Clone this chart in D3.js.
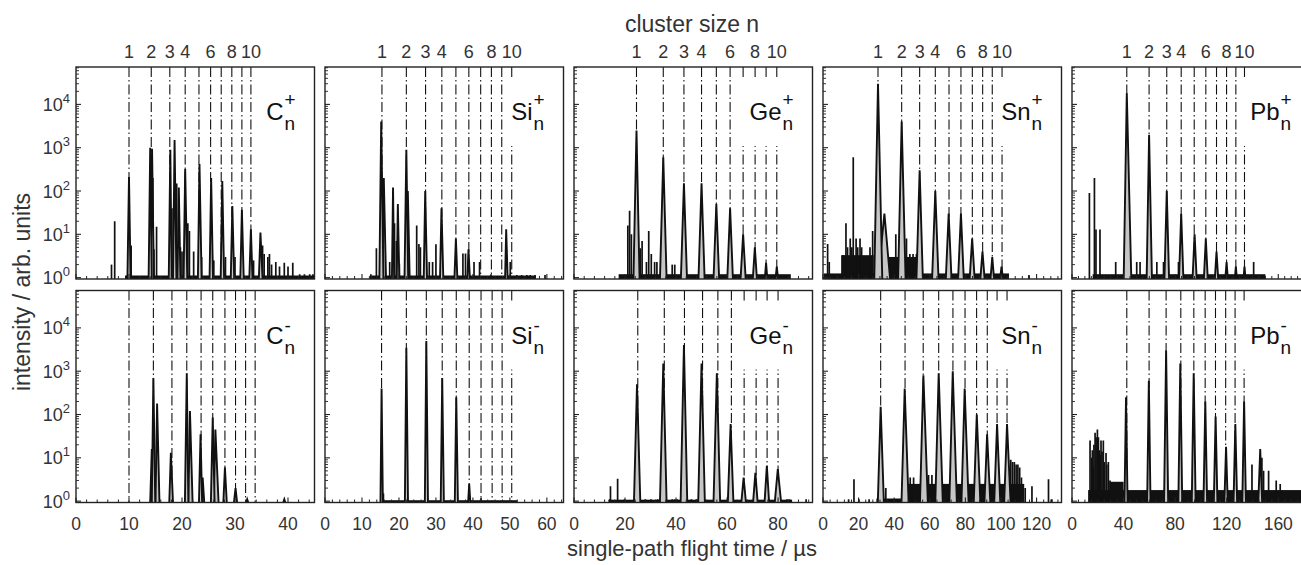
<!DOCTYPE html>
<html><head><meta charset="utf-8">
<script src="https://cdn.jsdelivr.net/npm/d3@7"></script>
<style>
body{margin:0;background:#fff;}
svg{display:block;font-family:"Liberation Sans",Arial,Helvetica,sans-serif;}
</style></head><body><svg id="chart" width="1301" height="565"></svg>
<script>
// ---------------- DATA ----------------
const species = ["C","Si","Ge","Sn","Pb"];
const xMaxes = [45, 64.5, 93.5, 134, 185];
const xTickSteps = [10, 10, 20, 20, 40];
const xMinorSteps = [2, 2, 4, 4, 5];
const clusterLabelNs = [1, 2, 3, 4, 6, 8, 10];
const yTickExps = [0, 1, 2, 3, 4];
const yDomain = [0.93, 73000];

// flight times of cluster sizes n = 1..10 (dash-dot marks)
const C_pos_lines  = [10.0, 14.2, 17.7, 20.6, 23.2, 25.4, 27.4, 29.4, 31.3, 33.0];
const C_neg_lines  = [10.0, 14.6, 18.1, 20.9, 23.6, 25.8, 28.1, 30.1, 32.0, 33.8];
const Si_pos_lines = [15.4, 22.0, 27.2, 31.6, 35.4, 38.9, 42.1, 45.0, 47.8, 50.5];
const Si_neg_lines = [15.3, 22.0, 27.4, 31.7, 35.5, 39.0, 42.2, 45.2, 47.9, 50.5];
const Ge_pos_lines = [24.5, 35.0, 43.1, 50.0, 55.8, 61.2, 66.3, 71.0, 75.3, 79.5];
const Ge_neg_lines = [25.0, 35.4, 43.3, 50.4, 56.4, 61.7, 66.7, 71.4, 75.7, 80.0];
const Sn_pos_lines = [30.9, 44.2, 54.3, 63.1, 70.8, 77.5, 83.9, 89.7, 95.1, 100.6];
const Sn_neg_lines = [32.4, 46.1, 56.3, 65.0, 73.0, 79.8, 86.3, 92.3, 97.8, 103.4];
const Pb_pos_lines = [42.5, 59.8, 73.5, 84.7, 94.8, 103.8, 112.1, 119.9, 127.1, 133.8];
const Pb_neg_lines = [42.5, 59.8, 73.0, 84.4, 94.5, 103.3, 111.3, 119.2, 126.5, 133.5];

// peaks: [time, intensity, left half-width, right half-width]
const C_pos_peaks = [[10.0,210,0.3,0.3],[14.0,1000,0.3,0.3],[14.35,950,0.25,0.35],[17.8,900,0.3,0.25],[18.6,1500,0.3,0.35],[19.4,120,0.25,0.3],[20.6,320,0.3,0.4],[23.3,420,0.3,0.4],[25.5,200,0.3,0.35],[27.6,170,0.3,0.35],[29.5,45,0.3,0.35],[31.3,37,0.3,0.35],[33.0,13,0.3,0.3],[34.8,11,0.3,0.4]];
const C_neg_peaks = [[14.3,16,0.3,0.2],[14.6,700,0.3,0.35],[15.3,180,0.3,0.45],[17.9,13,0.3,0.4],[20.9,900,0.35,0.3],[21.5,120,0.3,0.5],[23.5,35,0.3,0.3],[23.9,3.5,0.2,0.3],[25.8,85,0.35,0.35],[26.3,45,0.3,0.6],[28.1,6,0.3,0.35],[30.1,2,0.3,0.3],[32.3,1.1,0.2,0.2],[39.3,1.1,0.2,0.2]];
const Si_pos_peaks = [[15.2,4000,0.5,0.6],[15.9,200,0.4,0.6],[18.4,120,0.3,0.3],[19.7,50,0.3,0.4],[22.0,900,0.5,0.5],[22.4,100,0.3,0.5],[27.1,100,0.4,0.5],[31.5,40,0.4,0.5],[35.4,8,0.4,0.4],[38.8,4.5,0.3,0.4],[49.0,13,0.3,0.4]];
const Si_neg_peaks = [[15.3,400,0.3,0.35],[22.0,3500,0.4,0.45],[27.4,5000,0.4,0.45],[31.7,700,0.4,0.45],[35.5,250,0.4,0.45],[39.0,2.5,0.3,0.3]];
const Ge_pos_peaks = [[24.5,2500,1.2,1.2],[35.0,600,1.3,1.3],[43.1,150,1.2,1.2],[50.0,150,1.2,1.2],[55.8,50,1.1,1.1],[61.2,40,1.1,1.1],[66.3,10,1.0,1.0],[70.9,5,0.8,0.8],[75.3,2.2,0.5,0.5],[79.5,1.8,0.5,0.5]];
const Ge_neg_peaks = [[24.7,500,1.2,1.3],[35.0,1500,1.3,1.3],[43.1,4000,1.3,1.3],[50.0,1500,1.3,1.3],[56.0,900,1.3,1.3],[61.4,60,1.1,1.1],[66.5,3.5,0.9,0.9],[71.1,4.5,0.9,0.9],[75.6,6.5,0.9,0.9],[79.9,5.5,1.2,1.3]];
const Sn_pos_peaks = [[30.9,30000,2.1,2.4],[34.5,30,3.6,3.2],[44.2,4000,2.0,2.2],[54.3,300,1.8,1.8],[63.1,100,1.8,1.8],[70.6,30,1.6,1.6],[77.5,30,1.6,1.6],[83.8,8,1.4,1.4],[89.6,4,1.2,1.2],[95.1,3,1.0,1.0],[100.3,1.8,0.8,0.8]];
const Sn_neg_peaks = [[32.4,150,1.6,1.8],[45.9,400,1.8,2.2],[56.4,800,1.9,2.5],[65.0,900,1.9,2.3],[72.9,1000,1.9,2.3],[79.6,400,1.8,2.2],[86.4,100,1.7,2.0],[92.2,35,1.5,1.8],[97.8,60,1.6,1.8],[103.4,60,1.6,2.0]];
const Pb_pos_peaks = [[42.5,18000,2.4,3.5],[59.8,2000,1.9,2.2],[73.5,100,1.8,1.8],[84.7,30,1.7,1.7],[95.1,10,1.6,1.6],[103.8,8,1.5,1.5],[112.1,4,1.3,1.3],[119.9,2.3,1.0,1.0],[127.1,1.8,0.8,0.8],[133.8,1.8,0.8,0.8]];
const Pb_neg_peaks = [[41.9,250,1.2,1.2],[59.6,600,1.3,1.3],[73.0,3000,1.6,1.6],[84.0,1500,1.5,1.5],[94.4,900,1.5,1.5],[103.4,200,1.4,1.4],[111.4,90,1.4,1.4],[119.5,18,1.3,1.3],[126.7,60,1.4,1.4],[133.5,200,1.4,1.4],[146.0,16,1.5,1.5]];

// single-channel spikes: [time, intensity]
const C_pos_spikes = [[6.7,2],[7.3,20],[9.4,1.1],[10.4,5.5],[14.5,200],[14.7,4.5],[15.2,15],[18.1,40],[19.0,150],[19.7,5],[20.0,4],[21.1,18],[21.4,12],[22.2,4],[23.7,3],[26.0,2.5],[28.2,3],[30.0,3],[33.5,2.5],[35.2,5.5],[35.5,3.5],[36.2,3],[36.5,3.5],[36.9,2],[37.7,2.3],[38.4,1.8],[39.3,2.2],[40.0,1.8],[40.9,2.2],[42.2,1.2],[43.1,1.2],[44.1,1.2],[44.7,1.2]];
const C_neg_spikes = [];
const Si_pos_spikes = [[12.4,1.2],[13.9,4.8],[17.5,2.3],[18.8,18],[19.3,7],[20.1,2.1],[24.8,16],[25.4,6],[25.8,5],[28.2,2.3],[29.1,2.3],[30.0,5.9],[37.3,3.6],[38.0,3.6],[40.3,2.3],[41.8,2.3],[44.9,1.2],[50.1,2.3],[51.9,1.15],[53.2,1.15],[54.6,1.15],[55.5,1.15],[56.8,1.15],[59.5,1.15]];
const Si_neg_spikes = [[15.8,1.5],[42.2,1.2]];
const Ge_pos_spikes = [[18.2,1.15],[21.1,16],[21.8,35],[22.5,10],[26.0,4.8],[26.7,7],[28.4,2.3],[29.3,12],[30.3,3.5],[31.6,2.3],[32.5,2.3],[38.5,2],[39.5,2]];
const Ge_neg_spikes = [[14.0,1.1],[14.3,2.2],[17.1,3.3],[19.8,1.1],[28.0,1.1],[30.2,1.1],[32.8,1.1],[33.8,1.1],[38.5,1.1],[39.5,1.1],[40.5,1.1],[46,1.1],[48,1.1],[83.5,1.1],[84.5,1.1],[91,1.1]];
const Sn_pos_spikes = [[2.6,6],[3.5,2.3],[10.7,3.3],[11.6,3.3],[12.9,18],[13.8,5],[15.3,8],[16.2,5],[17.0,600],[18.6,8],[19.5,5],[20.8,8],[21.7,5],[26.4,5],[27.9,12],[40.9,10],[46.9,8],[48.8,3.5],[50.6,3.5],[52.5,3.5],[115.7,1.15]];
const Sn_neg_spikes = [[14.4,1.1],[17.4,3.2],[20.2,1.1],[25.9,1.1],[35.3,2],[49.0,3.5],[50.9,3.5],[59.3,4],[61.2,4],[105.5,9],[106.5,8],[107.5,8],[108.5,7],[109.5,7],[110.5,6],[111.5,3.5],[112.5,2.5],[113.6,2],[117.4,2.2],[126.7,3.2],[128.6,1.1]];
const Pb_pos_spikes = [[13.5,90],[17.4,200],[18.6,13],[21.7,13],[26.9,1.15],[29.5,1.15],[32.1,1.15],[33.9,2.3],[50.2,2.3],[52.8,2.3],[65.8,2.3],[71.0,2.3],[82.6,2.3],[140.9,2.3],[146.6,1.15],[149.2,1.15]];
const Pb_neg_spikes = [[14.0,25],[15.3,10],[15.8,15],[16.6,6],[17.0,20],[17.9,38],[18.7,30],[19.7,45],[20.5,30],[21.2,15],[21.8,12],[22.5,25],[23.3,14],[24.3,25],[25.0,8],[26.4,13],[27.0,7],[28.2,8],[29.5,3],[139.6,7],[147.3,10],[148.6,5],[152.5,5],[158.4,3],[161.5,2.5]];

// dense noise floor: [from time, to time, level]
const C_pos_bands = [[9.3,45,1.12]];
const C_neg_bands = [];
const Si_pos_bands = [[12.5,57,1.12]];
const Si_neg_bands = [[15,52,1.05]];
const Ge_pos_bands = [[17.5,85,1.2]];
const Ge_neg_bands = [[13.5,85.5,1.08]];
const Sn_pos_bands = [[0.5,104.5,1.25],[10.5,28.5,3.3],[36,52.5,3.0]];
const Sn_neg_bands = [[30,44,1.15],[44,113,2.5]];
const Pb_pos_bands = [[16,150,1.2]];
const Pb_neg_bands = [[12.5,185,1.8],[29,40,2.8]];

// ---------------- LAYOUT ----------------
const linesAll  = [[C_pos_lines,Si_pos_lines,Ge_pos_lines,Sn_pos_lines,Pb_pos_lines],[C_neg_lines,Si_neg_lines,Ge_neg_lines,Sn_neg_lines,Pb_neg_lines]];
const peaksAll  = [[C_pos_peaks,Si_pos_peaks,Ge_pos_peaks,Sn_pos_peaks,Pb_pos_peaks],[C_neg_peaks,Si_neg_peaks,Ge_neg_peaks,Sn_neg_peaks,Pb_neg_peaks]];
const spikesAll = [[C_pos_spikes,Si_pos_spikes,Ge_pos_spikes,Sn_pos_spikes,Pb_pos_spikes],[C_neg_spikes,Si_neg_spikes,Ge_neg_spikes,Sn_neg_spikes,Pb_neg_spikes]];
const bandsAll  = [[C_pos_bands,Si_pos_bands,Ge_pos_bands,Sn_pos_bands,Pb_pos_bands],[C_neg_bands,Si_neg_bands,Ge_neg_bands,Sn_neg_bands,Pb_neg_bands]];
const charges = ["+", "-"];

const svg = d3.select("#chart");
const panelW = 238.5, panelStep = 249;
const left0 = 76;
const rowTop = [67, 290.5], panelH = 212;
const gray = "#c6c6c6";

svg.append("defs").selectAll("clipPath").data(d3.range(10)).join("clipPath")
  .attr("id", i => "clip" + i)
  .append("rect")
  .attr("x", i => left0 + (i % 5) * panelStep)
  .attr("y", i => rowTop[Math.floor(i / 5)])
  .attr("width", panelW).attr("height", panelH);

for (let r = 0; r < 2; r++) {
  for (let c = 0; c < 5; c++) {
    const L = left0 + c * panelStep, T = rowTop[r], B = T + panelH, R = L + panelW;
    const x = d3.scaleLinear().domain([0, xMaxes[c]]).range([L, R]);
    const y = d3.scaleLog().domain(yDomain).range([B, T]);
    const g = svg.append("g");
    const inner = g.append("g").attr("clip-path", `url(#clip${r*5+c})`);

    // dash-dot cluster markers
    inner.append("g").selectAll("line").data(linesAll[r][c]).join("line")
      .attr("x1", d => x(d)).attr("x2", d => x(d))
      .attr("y1", T).attr("y2", B)
      .attr("stroke", "#111").attr("stroke-width", 1.1)
      .attr("stroke-dasharray", "10,3,1.5,3");

    // label with white box behind it
    const boxG = inner.append("g");
    const lab = g.append("g").attr("fill", "#111");
    const tMain = lab.append("text").attr("y", T + 53).attr("font-size", 24).attr("text-anchor", "end")
      .attr("x", R - 31).text(species[c]);
    lab.append("text").attr("x", R - 30).attr("y", T + (r === 0 ? 39 : 41)).attr("font-size", 19).text(charges[r]);
    lab.append("text").attr("x", R - 30).attr("y", T + 63).attr("font-size", 19).text("n");
    const mainLen = tMain.node().getComputedTextLength();
    const mainStart = R - 31 - mainLen;
    boxG.append("rect").attr("x", mainStart - 8).attr("y", T + 12)
      .attr("width", R - (mainStart - 8)).attr("height", 67).attr("fill", "#fff");

    // data
    const dg = inner.append("g");
    dg.selectAll("rect.band").data(bandsAll[r][c]).join("rect").attr("class", "band")
      .attr("x", d => x(d[0])).attr("width", d => x(d[1]) - x(d[0]))
      .attr("y", d => y(d[2])).attr("height", d => y(yDomain[0]) - y(d[2]))
      .attr("fill", "#111");
    dg.selectAll("line.spk").data(spikesAll[r][c]).join("line").attr("class", "spk")
      .attr("x1", d => x(d[0])).attr("x2", d => x(d[0]))
      .attr("y1", y(yDomain[0])).attr("y2", d => y(d[1]))
      .attr("stroke", "#111").attr("stroke-width", 1.7);
    const line = d3.line().x(p => x(p[0])).y(p => y(p[1]));
    const pkSorted = peaksAll[r][c].slice().sort((a, b) => a[1] - b[1]);
    dg.selectAll("path.pk").data(pkSorted).join("path").attr("class", "pk")
      .attr("d", d => line([[d[0] - d[2], yDomain[0]], [d[0], d[1]], [d[0] + d[3], yDomain[0]]]))
      .attr("fill", gray).attr("stroke", "#111").attr("stroke-width", 1.9).attr("stroke-linejoin", "miter");

    // frame
    g.append("rect").attr("x", L).attr("y", T).attr("width", panelW).attr("height", panelH)
      .attr("fill", "none").attr("stroke", "#222").attr("stroke-width", 1.4);

    // x ticks (inside)
    const majors = d3.range(0, xMaxes[c] + 1e-9, xTickSteps[c]);
    const minors = d3.range(0, xMaxes[c] + 1e-9, xMinorSteps[c]).filter(v => Math.abs(v / xTickSteps[c] - Math.round(v / xTickSteps[c])) > 1e-6);
    g.append("g").selectAll("line").data(majors).join("line")
      .attr("x1", d => x(d)).attr("x2", d => x(d)).attr("y1", B).attr("y2", B - 5)
      .attr("stroke", "#222").attr("stroke-width", 1.1);
    g.append("g").selectAll("line").data(minors).join("line")
      .attr("x1", d => x(d)).attr("x2", d => x(d)).attr("y1", B).attr("y2", B - 3)
      .attr("stroke", "#222").attr("stroke-width", 1);
    // y ticks (inside)
    const yMinors = [];
    yTickExps.forEach(e => { for (let k = 2; k <= 9; k++) { const v = k * Math.pow(10, e); if (v < yDomain[1]) yMinors.push(v); } });
    g.append("g").selectAll("line").data(yTickExps).join("line")
      .attr("x1", L).attr("x2", L + 5).attr("y1", d => y(Math.pow(10, d))).attr("y2", d => y(Math.pow(10, d)))
      .attr("stroke", "#222").attr("stroke-width", 1.1);
    g.append("g").selectAll("line").data(yMinors).join("line")
      .attr("x1", L).attr("x2", L + 3).attr("y1", d => y(d)).attr("y2", d => y(d))
      .attr("stroke", "#222").attr("stroke-width", 0.9);

    if (r === 1) {
      g.append("g").selectAll("text").data(majors).join("text")
        .attr("x", d => x(d)).attr("y", 530).attr("text-anchor", "middle")
        .attr("font-size", 17.5).attr("fill", "#333").text(d => d);
    }
    if (r === 0) {
      g.append("g").selectAll("text").data(clusterLabelNs).join("text")
        .attr("x", n => x(linesAll[r][c][n - 1])).attr("y", 58).attr("text-anchor", "middle")
        .attr("font-size", 18).attr("fill", "#333").text(n => n);
    }
    if (c === 0) {
      const yt = g.append("g").selectAll("text").data(yTickExps).join("text")
        .attr("x", L - 6).attr("y", d => y(Math.pow(10, d)) + 6.5).attr("text-anchor", "end")
        .attr("font-size", 18).attr("fill", "#333");
      yt.append("tspan").text("10");
      yt.append("tspan").attr("font-size", 13).attr("dy", -8).text(d => d);
    }
  }
}

svg.append("text").attr("x", 692).attr("y", 32).attr("text-anchor", "middle")
  .attr("font-size", 23).attr("fill", "#333").text("cluster size n");
svg.append("text").attr("x", 692).attr("y", 556).attr("text-anchor", "middle")
  .attr("font-size", 22).attr("fill", "#333").text("single-path flight time / µs");
svg.append("text").attr("transform", "translate(30,292) rotate(-90)").attr("text-anchor", "middle")
  .attr("font-size", 23).attr("fill", "#333").text("intensity / arb. units");
</script></body></html>
